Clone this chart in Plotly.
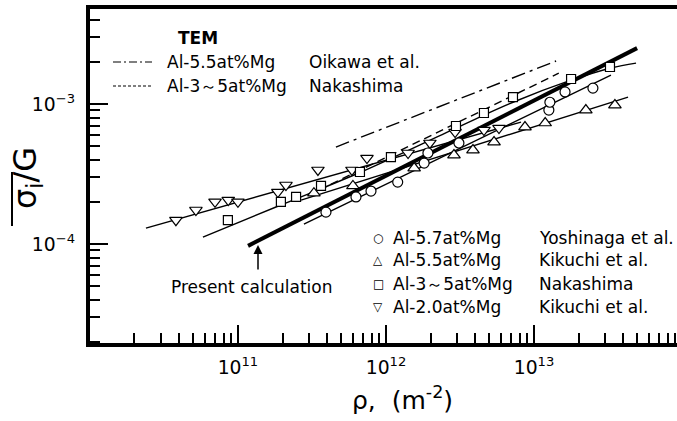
import plotly.graph_objects as go

# ---------------- data ----------------
# Al-2.0at%Mg  Kikuchi et al.  (down triangles)
a20_x = [3.81e10, 5.2e10, 7.0e10, 8.6e10, 1.0e11, 1.86e11, 2.11e11, 3.47e11,
         5.89e11, 7.44e11, 1.41e12, 1.98e12, 2.93e12, 4.59e12, 5.80e12]
a20_y = [1.48e-4, 1.75e-4, 2.0e-4, 2.06e-4, 2.0e-4, 2.35e-4, 2.64e-4, 3.38e-4,
         3.38e-4, 4.11e-4, 4.47e-4, 5.27e-4, 6.31e-4, 6.52e-4, 6.74e-4]
a20_fit_x = [2.39e10, 8.17e12]
a20_fit_y = [1.30e-4, 7.43e-4]

# Al-3~5at%Mg  Nakashima  (squares)
a35_x = [8.55e10, 1.95e11, 2.47e11, 3.64e11, 6.67e11, 1.08e12, 2.97e12,
         4.59e12, 7.21e12, 1.78e13, 3.26e13]
a35_y = [1.48e-4, 2.0e-4, 2.17e-4, 2.6e-4, 3.27e-4, 4.18e-4, 6.97e-4,
         8.63e-4, 1.12e-3, 1.51e-3, 1.84e-3]
a35_fit_x = [5.8e10, 1.95e11, 6.78e11, 2.97e12, 7.21e12, 1.78e13, 3.31e13, 4.89e13]
a35_fit_y = [1.12e-4, 1.90e-4, 3.27e-4, 6.74e-4, 1.03e-3, 1.48e-3, 1.81e-3, 1.96e-3]

# Al-5.7at%Mg  Yoshinaga et al.  (circles)
a57_x = [3.93e11, 6.27e11, 7.92e11, 1.2e12, 1.81e12, 1.92e12, 3.11e12,
         1.26e13, 1.28e13, 1.62e13, 2.5e13]
a57_y = [1.69e-4, 2.17e-4, 2.39e-4, 2.77e-4, 3.79e-4, 4.47e-4, 5.27e-4,
         9.06e-4, 1.03e-3, 1.22e-3, 1.30e-3]
a57_fit_x = [2.79e11, 3.31e13]
a57_fit_y = [1.39e-4, 1.61e-3]

# Al-5.5at%Mg  Kikuchi et al.  (up triangles)
a55_x = [3.26e11, 5.98e11, 1.55e12, 2.88e12, 3.87e12, 5.37e12, 8.69e12,
         1.19e13, 2.24e13, 3.52e13]
a55_y = [2.31e-4, 2.6e-4, 3.49e-4, 4.32e-4, 4.69e-4, 5.35e-4, 6.85e-4,
         7.32e-4, 9.06e-4, 9.84e-4]
a55_fit_x = [2.67e11, 4.32e13]
a55_fit_y = [2.06e-4, 1.12e-3]

# TEM lines
tem_oikawa_x = [4.59e11, 1.41e13]
tem_oikawa_y = [4.93e-4, 2.03e-3]
tem_naka_x = [3.53e11, 1.47e13]
tem_naka_y = [2.43e-4, 1.66e-3]

# Present calculation
calc_x = [1.17e11, 4.97e13]
calc_y = [9.7e-5, 2.51e-3]

FONT = "DejaVu Sans"
BLACK = "#000000"

fig = go.Figure()

def line(x, y, width=1.4, dash="solid", shape="linear"):
    fig.add_trace(go.Scatter(x=x, y=y, mode="lines", showlegend=False,
                             line=dict(color=BLACK, width=width, dash=dash, shape=shape),
                             hoverinfo="skip"))

def marks(x, y, symbol, size):
    fig.add_trace(go.Scatter(x=x, y=y, mode="markers", showlegend=False,
                             marker=dict(symbol=symbol, size=size, color="white",
                                         line=dict(color=BLACK, width=1.2))))

line(a20_fit_x, a20_fit_y)
line(a35_fit_x, a35_fit_y, shape="spline")
line(a57_fit_x, a57_fit_y)
line(a55_fit_x, a55_fit_y)
line(tem_oikawa_x, tem_oikawa_y, width=1.4, dash="14px,5px,3px,5px")
line(tem_naka_x, tem_naka_y, width=1.4, dash="8px,5px")
line(calc_x, calc_y, width=4)

marks(a20_x, a20_y, "triangle-down", 11)
marks(a35_x, a35_y, "square", 9)
marks(a57_x, a57_y, "circle", 10)
marks(a55_x, a55_y, "triangle-up", 11)

axis_common = dict(
    type="log", showline=True, linewidth=4, linecolor=BLACK,
    ticks="inside", ticklen=18, tickwidth=2, tickcolor=BLACK,
    dtick=1, exponentformat="power", showexponent="all",
    showgrid=False, zeroline=False,
    tickfont=dict(family=FONT, size=15, color=BLACK),
    minor=dict(ticks="inside", ticklen=10, tickwidth=2, tickcolor=BLACK,
               dtick="D1", showgrid=False),
)

fig.update_xaxes(**axis_common, range=[10.0005, 13.966], mirror=True,
                 ticklabelstandoff=5)
fig.update_yaxes(**axis_common, range=[-4.707, -2.321], ticklabelstandoff=8)

# paper-coordinate helpers (plot area: x 90..677, y 9..343 px)
def px(xp):
    return (xp - 90) / 587

def py(yp):
    return (343 - yp) / 334

def txt(x, y, s, size=17, xanchor="left", bold=False):
    fig.add_annotation(x=x, y=y, xref="paper", yref="paper", text=s,
                       showarrow=False, xanchor=xanchor, yanchor="middle",
                       font=dict(family=FONT, size=size, color=BLACK,
                                 weight="bold" if bold else "normal"))

# TEM legend (upper left)
txt(px(176), py(38), "TEM", bold=True)
txt(px(165), py(62), "Al-5.5at%Mg")
txt(px(307), py(62), "Oikawa et al.")
txt(px(165), py(86), "Al-3～5at%Mg")
txt(px(307), py(86), "Nakashima")
fig.add_shape(type="line", xref="paper", yref="paper", x0=px(113), x1=px(152),
              y0=py(62), y1=py(62), line=dict(color=BLACK, width=1.2, dash="8px,3px,2px,3px"))
fig.add_shape(type="line", xref="paper", yref="paper", x0=px(113), x1=px(152),
              y0=py(86), y1=py(86), line=dict(color=BLACK, width=1.2, dash="3px,2px"))

# symbol legend (lower right)
rows = [(238, "○", "Al-5.7at%Mg", "Yoshinaga et al."),
        (260, "△", "Al-5.5at%Mg", "Kikuchi et al."),
        (284, "□", "Al-3～5at%Mg", "Nakashima"),
        (307, "▽", "Al-2.0at%Mg", "Kikuchi et al.")]
for yy, sym, mat, auth in rows:
    txt(px(378), py(yy), sym, size=12, xanchor="center")
    txt(px(391), py(yy), mat)
    txt(px(537), py(yy), auth)

# Present calculation
txt(px(252), py(287), "Present calculation", size=17, xanchor="center")
fig.add_annotation(x=px(258), y=py(245), xref="paper", yref="paper", text="",
                   showarrow=True, ax=0, ay=26, arrowhead=2, arrowsize=1.2,
                   arrowwidth=1.5, arrowcolor=BLACK)

# axis titles
fig.add_annotation(x=px(402), y=py(398), xref="paper", yref="paper",
                   text="ρ,  (m<sup>-2</sup>)", showarrow=False,
                   xanchor="center", yanchor="middle",
                   font=dict(family=FONT, size=25, color=BLACK))
fig.add_annotation(x=px(27), y=py(178), xref="paper", yref="paper",
                   text="σ<sub>i</sub>/G", showarrow=False, textangle=-90,
                   xanchor="center", yanchor="middle",
                   font=dict(family=FONT, size=32, color=BLACK))
# overline of the sigma_i symbol
fig.add_shape(type="line", xref="paper", yref="paper", x0=px(12), x1=px(12),
              y0=py(226), y1=py(172), line=dict(color=BLACK, width=2))

fig.update_layout(
    width=677, height=421,
    margin=dict(l=90, r=0, t=9, b=78),
    plot_bgcolor="white", paper_bgcolor="white",
    showlegend=False,
)

fig.write_html("out.html", config={"displayModeBar": False},
               post_script="document.body.style.margin='0px';")
